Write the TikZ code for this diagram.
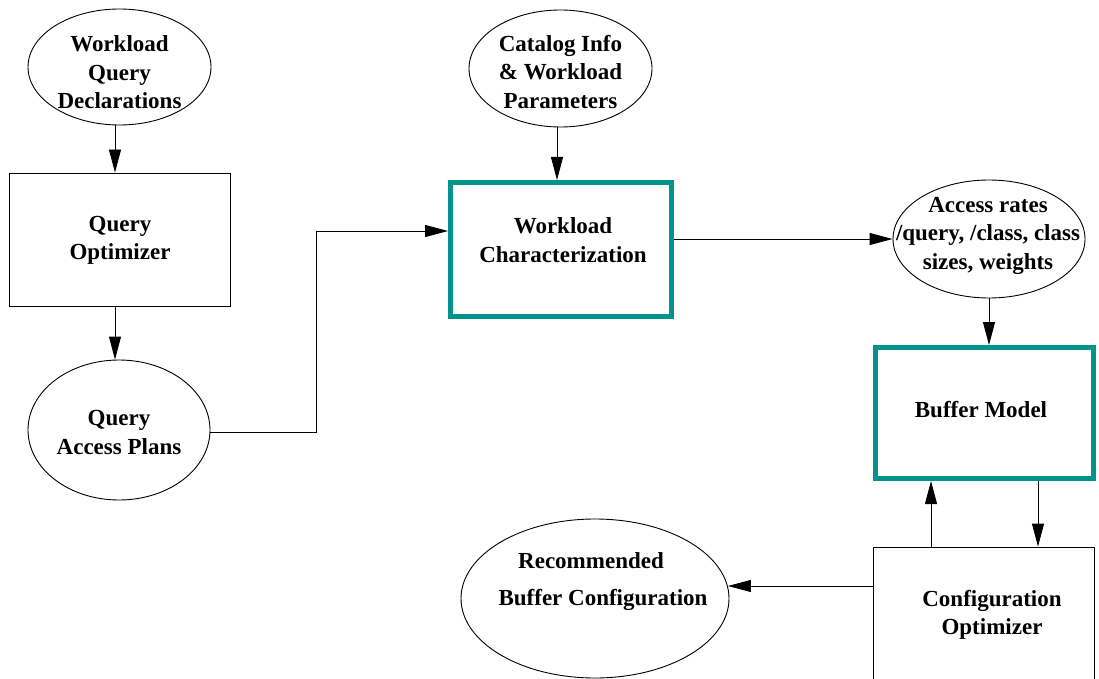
\documentclass[tikz,border=0pt]{standalone}
\usepackage{fontspec}
\setmainfont{Liberation Serif}
\usetikzlibrary{shapes.geometric,arrows.meta}
\definecolor{boxteal}{RGB}{0,148,140}
\begin{document}
\begin{tikzpicture}[x=1pt,y=-1pt,
  font=\fontsize{23}{28.5}\selectfont\bfseries,
  oval/.style={ellipse, draw, line width=0.9pt, inner sep=0pt},
  plainbox/.style={rectangle, draw, line width=0.9pt, inner sep=0pt},
  tealbox/.style={rectangle, draw=boxteal, line width=5pt, inner sep=0pt},
  txt/.style={align=center, inner sep=0pt, yshift=-2.5pt},
  flow/.style={-{Triangle[length=23pt,width=12pt]}, line width=0.9pt},
  link/.style={line width=0.9pt}]
\clip (0,0) rectangle (1099,679);

% shapes
\node[oval, minimum width=183pt, minimum height=116pt] (wqd) at (119.5,67) {};
\node[plainbox, minimum width=221pt, minimum height=133pt] (qo) at (119.5,239.5) {};
\node[oval, minimum width=182pt, minimum height=140pt] (qap) at (119,430) {};
\node[oval, minimum width=183pt, minimum height=117pt] (cat) at (560.5,68.5) {};
\node[tealbox, minimum width=221pt, minimum height=134pt] (wc) at (561,249.5) {};
\node[oval, minimum width=192pt, minimum height=118pt] (ar) at (989,239) {};
\node[tealbox, minimum width=218pt, minimum height=131pt] (bm) at (984.5,413) {};
\node[plainbox, minimum width=221pt, minimum height=143pt] (co) at (983.5,618.5) {};
\node[oval, minimum width=268pt, minimum height=159pt] (rec) at (595,598.5) {};

% labels
\node[txt] (wqd-t) at (119.5,70) {Workload\\Query\\Declarations};
\node[txt] (qo-t) at (120,238) {Query\\Optimizer};
\node[txt] (qap-t) at (119,430) {Query\\Access Plans};
\node[txt] (cat-t) at (560.5,69.5) {Catalog Info\\\& Workload\\Parameters};
\node[txt] (wc-t) at (563,237.5) {Workload\\Characterization};
\node[txt] (ar-t) at (988,233) {Access rates\\/query, /class, class\\sizes, weights};
\node[txt] (bm-t) at (981,407) {Buffer Model};
\node[txt] (co-t) at (992,612.5) {Configuration\\Optimizer};
\node[txt] (rec-t1) at (591,558) {Recommended};
\node[txt] (rec-t2) at (603,597) {Buffer Configuration};

% connectors
\draw[flow] ([xshift=-4.5pt]wqd.south) -- ([xshift=-4.5pt]wqd.south |- qo.north);
\draw[flow] ([xshift=-4.5pt]qo.south) -- ([xshift=-4.5pt]qo.south |- qap.north);
\draw[flow] ([yshift=-2pt]qap.east) -| ++(106,0) |- ([yshift=18.5pt]wc.west);
\draw[flow] ([xshift=-3.5pt]cat.south) -- ([xshift=-3.5pt]cat.south |- wc.north);
\draw[flow] (wc.east |- ar.west) -- (ar.west);
\draw[flow] (ar.south) -- (ar.south |- bm.north);
\draw[flow] ([xshift=-52.5pt]co.north) -- ([xshift=-52.5pt]co.north |- bm.south);
\draw[flow] ([xshift=53.5pt]bm.south) -- ([xshift=53.5pt]bm.south |- co.north);
\draw[flow] ([yshift=32.5pt]co.west) -- ([yshift=32.5pt,xshift=-1.5pt]co.west -| rec.east);
\end{tikzpicture}
\end{document}
